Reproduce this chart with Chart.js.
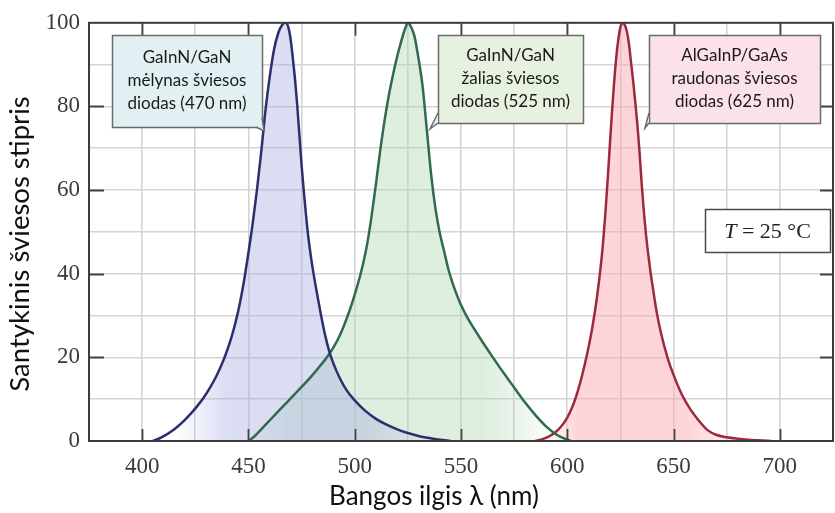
<!DOCTYPE html>
<html lang="lt">
<head>
<meta charset="utf-8">
<title>Šviesos diodų spektrai</title>
<script src="https://cdn.jsdelivr.net/npm/chart.js@4.4.1/dist/chart.umd.min.js"></script>
<style>
  html, body { margin: 0; padding: 0; background: #fff; overflow: hidden; }
  #wrap { width: 845px; height: 513px; }
</style>
</head>
<body>
<div id="wrap"><canvas id="c" width="845" height="513"></canvas></div>
<script>
// Emission spectra, wavelength (nm) vs relative intensity (%)
const blueNm  = [405,408,411,414,417,420,423,426,429,432,435,438,440,442,444,446,448,450,452,454,456,458,460,462,464,466,467.5,469,470,471,472,473,474,475,476,477,478,479,480,482,484,486,488,490,493,496,500,505,510,515,520,525,530,535,540,545];
const blueRel = [0,0.6,1.4,2.4,3.6,5,6.6,8.4,10.4,12.8,15.6,19,21.7,24.8,28.5,33,38.5,45,52,60,69,79,87,93.5,97.5,99.6,100,98.5,95.5,91,86,80,73,66,60,54.5,49.5,45.5,42,36,30.5,25.5,21.5,18.5,15,12.3,9.7,7.2,5.3,3.9,2.8,1.9,1.2,0.7,0.3,0];

const greenNm  = [450,453,456,459,462,465,468,471,474,477,480,483,486,488,490,492,494,496,498,500,502,504,506,508,510,512,514,516,518,520,522,524,525,526,528,530,532,534,536,538,540,542,544,546,548,550,553,556,560,565,570,575,580,585,590,595,600,602];
const greenRel = [0,1.2,2.8,4.4,6,7.6,9.2,10.8,12.4,14,15.7,17.5,19.4,20.8,22.4,24.2,26.4,29,31.8,35,38.5,42.5,47.5,54,61.5,69.5,76.5,82.5,87.5,92,95.8,99,100,99.5,97,91.5,84.5,74,63.5,55.5,49.8,45.5,41.2,37.8,35,32.5,29.5,27,23.8,20,16.3,12.8,9.3,6.2,3.5,1.5,0.3,0];

const redNm  = [585,588,591,594,597,600,602,604,606,608,610,612,614,616,617,618,619,620,621,622,623,624,625,626,627,628,629,630,631,632,633,634,635,636,637,638,639,640,642,644,647,650,654,658,662,666,670,675,680,685,690,696];
const redRel = [0,0.4,1,1.9,3.4,5.6,7.7,10.4,13.8,17.8,22.4,27.8,34.5,43,48.5,55,62.5,70.5,78.5,85.5,91.5,96,99,100,99.5,98,95,90.5,86,81,75.5,69,61.5,55,49.5,45,41,37.5,31,26,20.2,15.8,11,7.5,4.8,2.6,1.5,0.9,0.55,0.3,0.15,0];

const xTickLabels = [400,450,500,550,600,650,700];
const yTickLabels = [0,20,40,60,80,100];

const xTitle = 'Bangos ilgis λ (nm)';
const yTitle = 'Santykinis šviesos stipris';

const boxTexts = [
  ['GaInN/GaN', 'mėlynas šviesos', 'diodas (470 nm)'],
  ['GaInN/GaN', 'žalias šviesos', 'diodas (525 nm)'],
  ['AlGaInP/GaAs', 'raudonas šviesos', 'diodas (625 nm)']
];
const tempLabel = ['T', ' = 25 °C'];

const toPoints = (xs, ys) => xs.map((v, i) => ({ x: v, y: ys[i] }));

// horizontal gradient so the shading fades towards the tails
function bandFill(from, to, rgb, alpha) {
  return (ctx) => {
    const chart = ctx.chart;
    const xs = chart.scales.x;
    if (!chart.chartArea || !xs) return `rgba(${rgb},${alpha})`;
    const x0 = xs.getPixelForValue(from[0]), x1 = xs.getPixelForValue(to[1]);
    const g = chart.ctx.createLinearGradient(x0, 0, x1, 0);
    const span = to[1] - from[0];
    g.addColorStop(0, `rgba(${rgb},0)`);
    g.addColorStop((from[1] - from[0]) / span, `rgba(${rgb},${alpha})`);
    g.addColorStop((to[0] - from[0]) / span, `rgba(${rgb},${alpha})`);
    g.addColorStop(1, `rgba(${rgb},0)`);
    return g;
  };
}

const serif = '"Liberation Serif", "DejaVu Serif", serif';
const sans = 'Lato, "Open Sans", sans-serif';

const frame = {
  id: 'frame',
  afterDatasetsDraw(chart) {
    const { ctx, chartArea: a, scales: { x, y } } = chart;
    ctx.save();
    // outer frame
    ctx.strokeStyle = '#3c3c3c';
    ctx.lineWidth = 2;
    ctx.strokeRect(a.left, a.top, a.right - a.left, a.bottom - a.top);
    // inward tick marks
    ctx.beginPath();
    xTickLabels.forEach(v => {
      const px = Math.round(x.getPixelForValue(v)) + 0.5;
      ctx.moveTo(px, a.bottom); ctx.lineTo(px, a.bottom - 12);
      ctx.moveTo(px, a.top); ctx.lineTo(px, a.top + 13);
    });
    yTickLabels.slice(1, -1).forEach(v => {
      const py = Math.round(y.getPixelForValue(v)) + 0.5;
      ctx.moveTo(a.left, py); ctx.lineTo(a.left + 15, py);
      ctx.moveTo(a.right, py); ctx.lineTo(a.right - 13, py);
    });
    ctx.lineWidth = 1.8;
    ctx.strokeStyle = '#444';
    ctx.stroke();

    // labelled boxes
    const boxes = [
      { l: 112, t: 35, r: 262, b: 127, fill: '#e3f0f3', tail: [[262, 118], [264, 131], [256, 127]] },
      { l: 438, t: 35, r: 583, b: 123, fill: '#e6f2df', tail: [[438, 113], [430, 129], [438, 123]] },
      { l: 649, t: 35, r: 820, b: 123, fill: '#fbe1ea', tail: [[649, 113], [645, 128], [649, 123]] }
    ];
    boxes.forEach((bx, i) => {
      ctx.fillStyle = bx.fill;
      ctx.strokeStyle = '#6a6a6a';
      ctx.lineWidth = 1.5;
      ctx.fillRect(bx.l, bx.t, bx.r - bx.l, bx.b - bx.t);
      ctx.strokeRect(bx.l + 0.5, bx.t + 0.5, bx.r - bx.l, bx.b - bx.t);
      ctx.beginPath();
      ctx.moveTo(bx.tail[0][0], bx.tail[0][1]);
      ctx.lineTo(bx.tail[1][0], bx.tail[1][1]);
      ctx.lineTo(bx.tail[2][0], bx.tail[2][1]);
      ctx.fill();
      ctx.stroke();
      ctx.fillStyle = '#1a1a1a';
      ctx.font = `17px ${sans}`;
      ctx.textAlign = 'center';
      ctx.textBaseline = 'middle';
      const cx = (bx.l + bx.r) / 2;
      const cy = (bx.t + bx.b) / 2;
      boxTexts[i].forEach((line, k) => ctx.fillText(line, cx, cy + (k - 1) * 23));
    });

    // temperature box
    ctx.fillStyle = '#fff';
    ctx.fillRect(705, 209, 125, 43);
    ctx.strokeStyle = '#4a4a4a';
    ctx.lineWidth = 1.5;
    ctx.strokeRect(705.5, 209.5, 125, 43);
    ctx.fillStyle = '#222';
    ctx.textBaseline = 'middle';
    ctx.textAlign = 'left';
    ctx.font = `italic 22px ${serif}`;
    const w1 = ctx.measureText(tempLabel[0]).width;
    ctx.font = `22px ${serif}`;
    const w2 = ctx.measureText(tempLabel[1]).width;
    const sx = 767.5 - (w1 + w2) / 2;
    ctx.font = `italic 22px ${serif}`;
    ctx.fillText(tempLabel[0], sx, 232);
    ctx.font = `22px ${serif}`;
    ctx.fillText(tempLabel[1], sx + w1, 232);

    // axis titles
    ctx.fillStyle = '#111';
    ctx.font = `26px ${sans}`;
    ctx.textAlign = 'center';
    ctx.textBaseline = 'alphabetic';
    ctx.fillText(xTitle, 434, 505);
    ctx.translate(29, 244);
    ctx.rotate(-Math.PI / 2);
    ctx.font = `27.5px ${sans}`;
    ctx.fillText(yTitle, 0, 0);
    ctx.restore();
  }
};

const lineDs = (label, xs, ys, color, fill) => ({
  label,
  data: toPoints(xs, ys),
  borderColor: color,
  borderWidth: 2.5,
  backgroundColor: fill,
  fill: 'origin',
  pointRadius: 0,
  cubicInterpolationMode: 'monotone'
});

new Chart(document.getElementById('c'), {
  type: 'line',
  data: {
    datasets: [
      lineDs('GaInN/GaN mėlynas', blueNm, blueRel, '#2c2f6c', bandFill([415, 440], [505, 545], '170,175,225', 0.42)),
      lineDs('GaInN/GaN žalias', greenNm, greenRel, '#2f6b4f', bandFill([445, 470], [560, 600], '175,215,180', 0.42)),
      lineDs('AlGaInP/GaAs raudonas', redNm, redRel, '#9c2a3d', bandFill([590, 605], [655, 695], '250,170,180', 0.5))
    ]
  },
  options: {
    responsive: false,
    devicePixelRatio: 1,
    animation: false,
    layout: { padding: { top: 19, right: 4, left: 0, bottom: 0 } },
    plugins: {
      legend: { display: false },
      tooltip: { enabled: false },
      filler: { drawTime: 'beforeDatasetsDraw' }
    },
    scales: {
      x: {
        type: 'linear',
        min: 375, max: 725,
        afterFit: s => { s.height = 72; },
        border: { display: false },
        grid: { color: '#d3d3d3', lineWidth: 1.6, drawTicks: false },
        ticks: {
          stepSize: 25, autoSkip: false, maxRotation: 0, padding: 12,
          color: '#3a3a3a', font: { family: serif, size: 23 },
          callback: v => xTickLabels.includes(v) ? String(v) : ''
        }
      },
      y: {
        min: 0, max: 100,
        afterFit: s => { s.width = 89; },
        border: { display: false },
        grid: { color: '#d3d3d3', lineWidth: 1.6, drawTicks: false },
        ticks: {
          stepSize: 10, autoSkip: false, padding: 9,
          color: '#3a3a3a', font: { family: serif, size: 23 },
          callback: v => yTickLabels.includes(v) ? String(v) : ''
        }
      }
    }
  },
  plugins: [frame]
});
</script>
</body>
</html>
